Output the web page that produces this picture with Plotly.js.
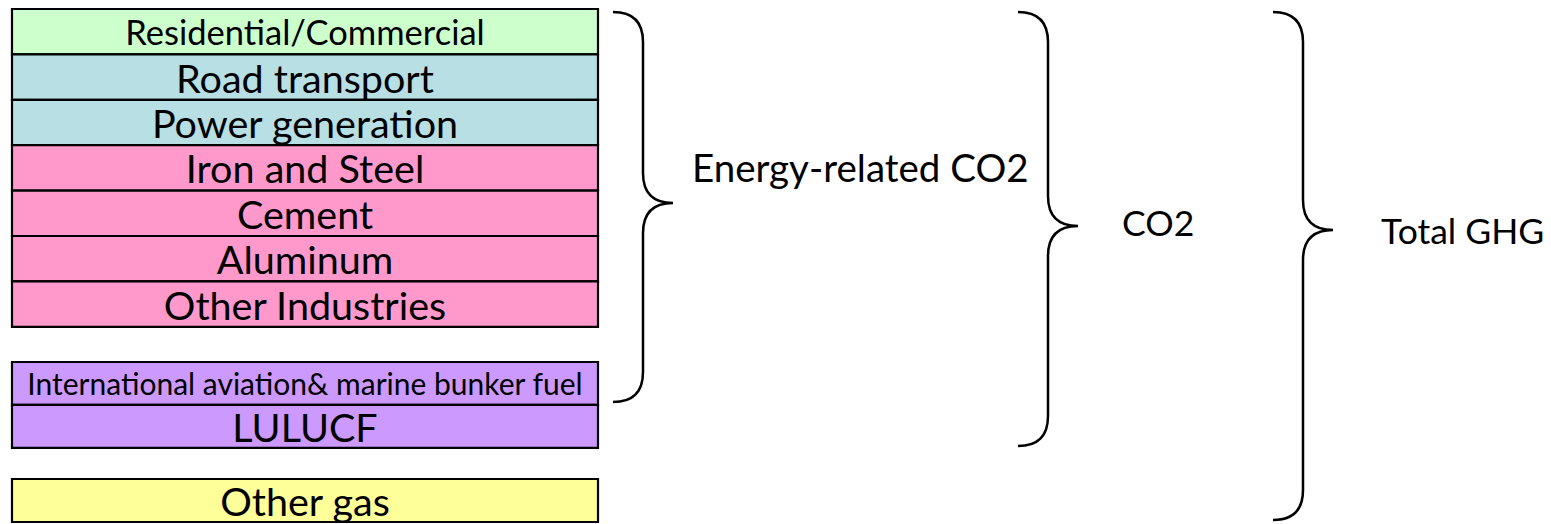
<!DOCTYPE html>
<html>
<head>
<meta charset="utf-8">
<script src="https://cdn.plot.ly/plotly-3.0.1.min.js"></script>
<style>
  html, body { margin: 0; padding: 0; background: #ffffff; }
  #chart { width: 1551px; height: 524px; }
</style>
</head>
<body>
<div id="chart"></div>
<script>
// ---------------- DATA ----------------
const categories = [
  'Residential/Commercial',
  'Road transport',
  'Power generation',
  'Iron and Steel',
  'Cement',
  'Aluminum',
  'Other Industries',
  'International aviation& marine bunker fuel',
  'LULUCF',
  'Other gas'
];
// which stacked block each category belongs to (0: energy sectors, 1: other CO2, 2: other gas)
const blockOf = [0, 0, 0, 0, 0, 0, 0, 1, 1, 2];
// sector type of each category (used to pick the fill colour)
const sectorType = ['buildings', 'transport', 'transport', 'industry', 'industry', 'industry', 'industry', 'other', 'other', 'gas'];
// bracket groups: label and the categories (first..last index) they enclose
const groupLabels = ['Energy-related CO2', 'CO2', 'Total GHG'];
const groupFirst = [0, 0, 0];
const groupLast = [7, 8, 9];

// ---------------- STYLE / GEOMETRY ----------------
const sectorColor = {
  buildings: '#CCFFCC',
  transport: '#B8DFE3',
  industry: '#FF99CC',
  other: '#CC99FF',
  gas: '#FFFF99'
};
const boxLeft = 12, boxRight = 598;
const blockTop = [9, 362, 479];
const blockRowH = [45.4, 42.9, 43];
const fontFamily = 'Lato, Carlito, Calibri, "Open Sans", sans-serif';
const fontSizeFor = (name) => name.length > 30 ? 30 : (name.length > 18 ? 34.5 : 39.5);

// row geometry from block membership
const rowIdxInBlock = [];
const counters = {};
blockOf.forEach((b) => { counters[b] = (counters[b] || 0); rowIdxInBlock.push(counters[b]); counters[b]++; });
const rowTop = blockOf.map((b, i) => blockTop[b] + rowIdxInBlock[i] * blockRowH[b]);
const rowH = blockOf.map(b => blockRowH[b]);
const rowCenter = rowTop.map((t, i) => t + rowH[i] / 2);

const barTrace = {
  type: 'bar',
  orientation: 'h',
  y: rowCenter,
  x: categories.map(() => boxRight - boxLeft),
  base: categories.map(() => boxLeft),
  width: rowH,
  marker: {
    color: sectorType.map(s => sectorColor[s]),
    line: { color: '#000000', width: 2.2 }
  },
  text: categories,
  textposition: 'inside',
  insidetextanchor: 'middle',
  textangle: 0,
  constraintext: 'none',
  textfont: { family: fontFamily, size: categories.map(fontSizeFor), color: '#000000' },
  hoverinfo: 'text',
  showlegend: false
};

// bracket geometry
const braceX0 = [613, 1018, 1273];
const braceDepth = 30;
const braceTipY = [203, 226, 230];
const braceTopY = [12, 12, 12];
const braceBotY = [402, 446, 520];
const labelX = [860, 1158, 1462];
const labelY = [167, 222, 230];
const labelSize = [38.5, 35.5, 35.5];

function bracePath(x0, yTop, yBot, yTip, d) {
  const xv = x0 + d, xt = x0 + 2 * d, r = d;
  return `M ${x0} ${yTop} Q ${xv} ${yTop} ${xv} ${yTop + r} ` +
         `L ${xv} ${yTip - r} Q ${xv} ${yTip} ${xt} ${yTip} ` +
         `Q ${xv} ${yTip} ${xv} ${yTip + r} ` +
         `L ${xv} ${yBot - r} Q ${xv} ${yBot} ${x0} ${yBot}`;
}

const shapes = groupLabels.map((g, k) => ({
  type: 'path',
  xref: 'x', yref: 'y',
  path: bracePath(braceX0[k], braceTopY[k], braceBotY[k], braceTipY[k], braceDepth),
  line: { color: '#000000', width: 2.5 },
  layer: 'above'
}));

const annotations = groupLabels.map((g, k) => ({
  x: labelX[k], y: labelY[k], xref: 'x', yref: 'y',
  text: g, showarrow: false,
  xanchor: 'center', yanchor: 'middle',
  font: { family: fontFamily, size: labelSize[k], color: '#000000' }
}));

const layout = {
  width: 1551, height: 524,
  margin: { l: 0, r: 0, t: 0, b: 0, pad: 0 },
  paper_bgcolor: '#ffffff', plot_bgcolor: '#ffffff',
  xaxis: { range: [0, 1551], visible: false, fixedrange: true },
  yaxis: { range: [524, 0], visible: false, fixedrange: true },
  bargap: 0,
  shapes: shapes,
  annotations: annotations,
  showlegend: false
};

Plotly.newPlot('chart', [barTrace], layout, { displayModeBar: false, staticPlot: true });
</script>
</body>
</html>
